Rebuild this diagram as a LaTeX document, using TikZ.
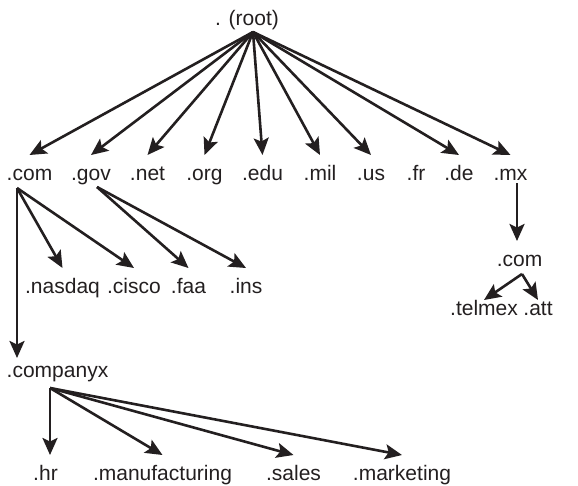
\documentclass[tikz,border=0pt]{standalone}
\usepackage{fontspec}
\setmainfont{Liberation Sans}
\usetikzlibrary{arrows.meta}
\definecolor{ink}{HTML}{231F20}
\tikzset{
  dom/.style={anchor=base, inner sep=0pt, outer xsep=0pt, outer ysep=10pt,
    text height=15pt, text depth=5pt, font=\fontsize{21}{25}\selectfont, text=ink},
  arr/.style={draw=ink, line width=2.6pt, -{Stealth[length=17pt,width=15pt,inset=3.5pt]}},
}
\begin{document}
\begin{tikzpicture}[x=1pt,y=-1pt]
\useasboundingbox (0,0) rectangle (578,485);
% top level
\node[dom] (root) at (247,25) {. (root)};
\coordinate (rfork) at (253,32);

\node[dom] (com) at (29.5,180) {.com};
\node[dom] (gov) at (91,180) {.gov};
\node[dom] (net) at (147.5,180) {.net};
\node[dom] (org) at (204.5,180) {.org};
\node[dom] (edu) at (262.5,180) {.edu};
\node[dom] (mil) at (320,180) {.mil};
\node[dom] (us) at (371,180) {.us};
\node[dom] (fr) at (416,180) {.fr};
\node[dom] (de) at (459,180) {.de};
\node[dom] (mx) at (510.5,180) {.mx};

\path[arr] (rfork) -- (com.north);
\path[arr] (rfork) -- (gov.north);
\path[arr] (rfork) -- (net.north);
\path[arr] (rfork) -- (org.north);
\path[arr] (rfork) -- (edu.north);
\path[arr] (rfork) -- (mil.north);
\path[arr] (rfork) -- (us.north);
\path[arr] (rfork) -- (de.north);
\path[arr] (rfork) -- (mx.north);

% second level
\coordinate (comfork) at (17,188);
\coordinate (govfork) at (97,187);
\node[dom] (nasdaq) at (62.5,293) {.nasdaq};
\node[dom] (cisco) at (134,293) {.cisco};
\node[dom] (faa) at (188.5,293) {.faa};
\node[dom] (ins) at (246,293) {.ins};

\path[arr] (comfork) -- (nasdaq.north);
\path[arr] (comfork) -- (cisco.north);
\path[arr] (govfork) -- (faa.north);
\path[arr] (govfork) -- (ins.north);

% mexico branch
\coordinate (mxfork) at (517,183);
\node[dom] (mxcom) at (519.5,266) {.com};
\coordinate (mxcomfork) at (522,274);
\node[dom,outer ysep=0pt] (telmex) at (484,315) {.telmex};
\node[dom,outer ysep=0pt] (att) at (538,315) {.att};

\path[arr] (mxfork) -- (mxfork |- mxcom.north);
\path[arr] (mxcomfork) -- (telmex.north);
\path[arr] (mxcomfork) -- (att.north);

% companyx
\node[dom,outer ysep=4pt] (cx) at (57.5,377) {.companyx};
\coordinate (cxfork) at (50,388);
\path[arr] (comfork) -- (comfork |- cx.north);

\node[dom] (hr) at (45.5,480) {.hr};
\node[dom] (manuf) at (162.5,480) {.manufacturing};
\node[dom] (sales) at (293.5,480) {.sales};
\node[dom] (mkt) at (402,480) {.marketing};

\path[arr] (cxfork) -- (cxfork |- hr.north);
\path[arr] (cxfork) -- (manuf.north);
\path[arr] (cxfork) -- (sales.north);
\path[arr] (cxfork) -- (mkt.north);
\end{tikzpicture}
\end{document}
